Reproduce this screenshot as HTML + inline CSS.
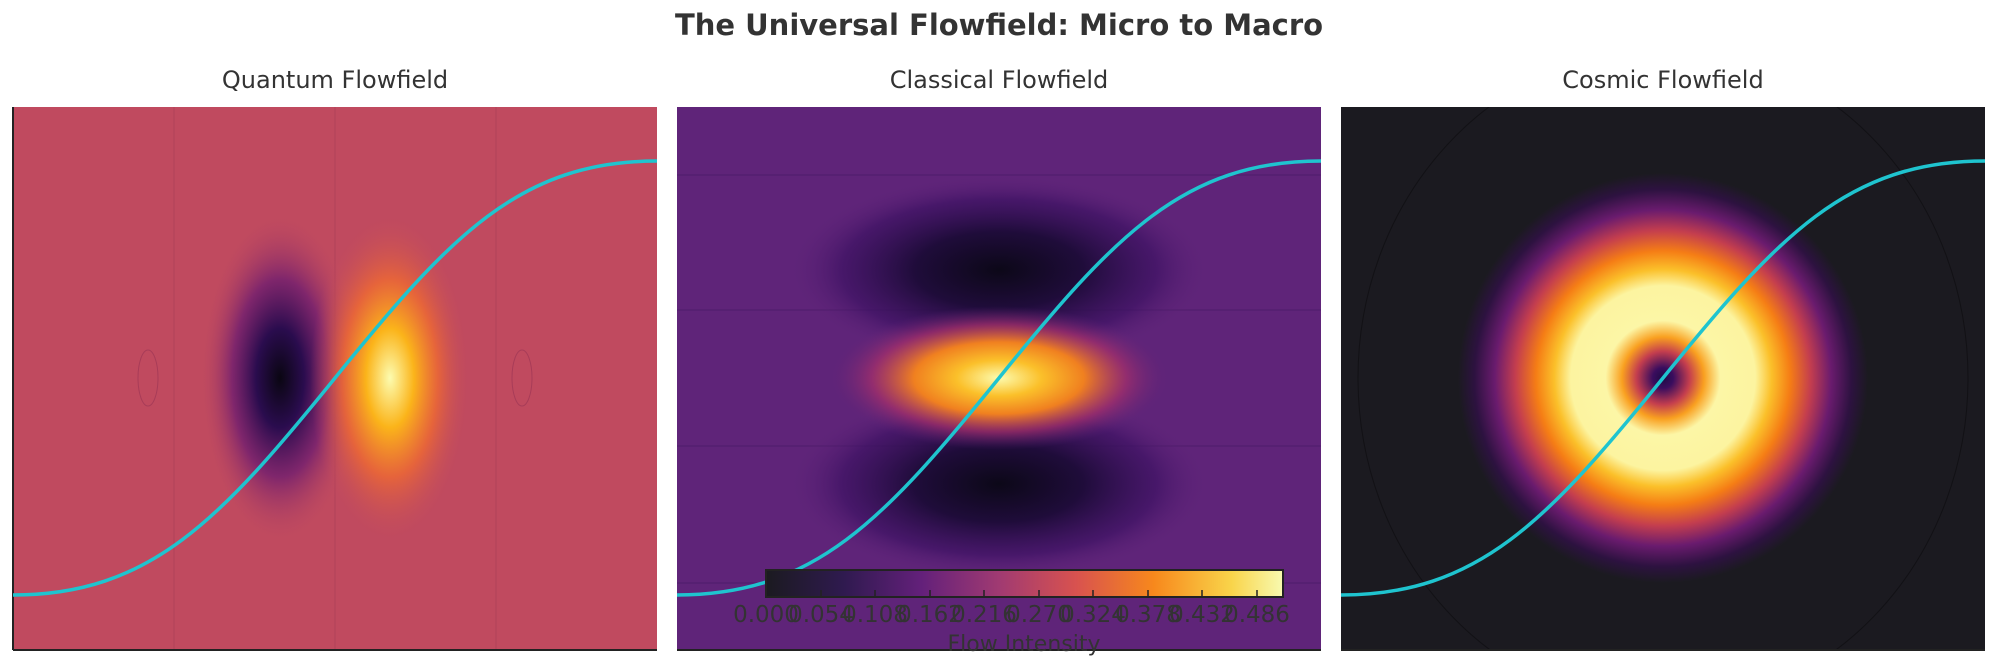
<!DOCTYPE html>
<html><head><meta charset="utf-8"><style>
body{margin:0;background:#fff;overflow:hidden;}
svg text{font-family:"DejaVu Sans","Liberation Sans",sans-serif;fill:#333;}
</style></head><body>
<svg width="1999" height="668" viewBox="0 0 1999 668" xmlns="http://www.w3.org/2000/svg" style="display:block">
<defs>
<clipPath id="c3"><rect x="1341" y="107" width="644" height="543"/></clipPath>
<radialGradient id="qd"><stop offset="0" stop-color="#0a0612"/><stop offset="0.3" stop-color="#2a0c4e"/><stop offset="0.6" stop-color="#6f1d6f" stop-opacity="0.8"/><stop offset="1" stop-color="#c04a5f" stop-opacity="0"/></radialGradient>
<radialGradient id="qb"><stop offset="0" stop-color="#fcfcb0"/><stop offset="0.3" stop-color="#fbb41a"/><stop offset="0.6" stop-color="#ef6a32" stop-opacity="0.8"/><stop offset="1" stop-color="#c04a5f" stop-opacity="0"/></radialGradient>
<radialGradient id="cd"><stop offset="0" stop-color="#0c0818"/><stop offset="0.4" stop-color="#1f0c3a"/><stop offset="0.75" stop-color="#3d1263" stop-opacity="0.7"/><stop offset="1" stop-color="#5f2479" stop-opacity="0"/></radialGradient>
<radialGradient id="cb"><stop offset="0" stop-color="#fcfcb0"/><stop offset="0.25" stop-color="#fbc02a"/><stop offset="0.5" stop-color="#f08020"/><stop offset="0.75" stop-color="#a8306a" stop-opacity="0.7"/><stop offset="1" stop-color="#5f2479" stop-opacity="0"/></radialGradient>
<radialGradient id="co"><stop offset="0" stop-color="#1e0c45"/><stop offset="0.05" stop-color="#3a0d5e"/><stop offset="0.13" stop-color="#c43e4e"/><stop offset="0.2" stop-color="#f9a020"/><stop offset="0.28" stop-color="#fcf6a6"/><stop offset="0.45" stop-color="#fcf4a0"/><stop offset="0.53" stop-color="#fbc02a"/><stop offset="0.62" stop-color="#f57d15"/><stop offset="0.72" stop-color="#c43e4e"/><stop offset="0.82" stop-color="#6a1b6e"/><stop offset="0.92" stop-color="#2d1240"/><stop offset="1" stop-color="#1b1a20"/></radialGradient>
<linearGradient id="inf"><stop offset="0" stop-color="#1b1a20"/><stop offset="0.15" stop-color="#2f1a4f"/><stop offset="0.3" stop-color="#63207a"/><stop offset="0.45" stop-color="#a03a72"/><stop offset="0.6" stop-color="#d8524f"/><stop offset="0.75" stop-color="#f7881c"/><stop offset="0.9" stop-color="#f9d44a"/><stop offset="1" stop-color="#f8fab0"/></linearGradient>
</defs>
<text x="999" y="35" text-anchor="middle" font-size="29" font-weight="bold">The Universal Flowfield: Micro to Macro</text>
<text x="335" y="88" text-anchor="middle" font-size="24">Quantum Flowfield</text>
<text x="999" y="88" text-anchor="middle" font-size="24">Classical Flowfield</text>
<text x="1663" y="88" text-anchor="middle" font-size="24">Cosmic Flowfield</text>

<rect x="13" y="107" width="644" height="543" fill="#c04a5f"/>
<g stroke="#a83c58" stroke-width="1" opacity="0.6"><line x1="174" y1="107" x2="174" y2="650"/><line x1="335" y1="107" x2="335" y2="650"/><line x1="496" y1="107" x2="496" y2="650"/></g>
<ellipse cx="280" cy="378" rx="80" ry="165" fill="url(#qd)"/>
<ellipse cx="390" cy="378" rx="80" ry="165" fill="url(#qb)"/>
<ellipse cx="148" cy="378" rx="10" ry="28" fill="none" stroke="#a83c58"/>
<ellipse cx="522" cy="378" rx="10" ry="28" fill="none" stroke="#a83c58"/>
<line x1="13" y1="107" x2="13" y2="650" stroke="#222" stroke-width="2"/>
<line x1="13" y1="650" x2="657" y2="650" stroke="#222" stroke-width="2"/>

<rect x="677" y="107" width="644" height="543" fill="#5f2479"/>
<g stroke="#4e1c6a" stroke-width="1"><line x1="677" y1="175" x2="1321" y2="175"/><line x1="677" y1="310" x2="1321" y2="310"/><line x1="677" y1="446" x2="1321" y2="446"/><line x1="677" y1="583" x2="1321" y2="583"/></g>
<ellipse cx="999" cy="270" rx="210" ry="95" fill="url(#cd)"/>
<ellipse cx="999" cy="484" rx="210" ry="95" fill="url(#cd)"/>
<ellipse cx="999" cy="378" rx="170" ry="72" fill="url(#cb)"/>
<line x1="677" y1="650" x2="1321" y2="650" stroke="#222" stroke-width="2"/>

<rect x="1341" y="107" width="644" height="543" fill="#1b1a20"/>
<g clip-path="url(#c3)">
<ellipse cx="1663" cy="378" rx="305" ry="330" fill="none" stroke="#121115"/>
<ellipse cx="1663" cy="378" rx="205" ry="205" fill="url(#co)"/>
</g>
<line x1="1341" y1="650" x2="1985" y2="650" stroke="#222" stroke-width="2"/>

<g fill="none" stroke="#1fc4cf" stroke-width="3.5">
<path d="M13,595 C150,595 220,520 335,378 C450,236 520,161 657,161"/>
<path d="M677,595 C814,595 884,520 999,378 C1114,236 1184,161 1321,161"/>
<path d="M1341,595 C1478,595 1548,520 1663,378 C1778,236 1848,161 1985,161"/>
</g>

<rect x="766" y="570" width="517" height="27" fill="url(#inf)" stroke="#222" stroke-width="2"/>
<g stroke="#222" stroke-width="1.5">
<line x1="821" y1="597" x2="821" y2="590"/><line x1="875" y1="597" x2="875" y2="590"/><line x1="930" y1="597" x2="930" y2="590"/><line x1="984" y1="597" x2="984" y2="590"/><line x1="1039" y1="597" x2="1039" y2="590"/><line x1="1093" y1="597" x2="1093" y2="590"/><line x1="1148" y1="597" x2="1148" y2="590"/><line x1="1202" y1="597" x2="1202" y2="590"/><line x1="1257" y1="597" x2="1257" y2="590"/>
</g>
<g font-size="23" text-anchor="middle">
<text x="766" y="622">0.000</text><text x="821" y="622">0.054</text><text x="875" y="622">0.108</text><text x="930" y="622">0.162</text><text x="984" y="622">0.216</text><text x="1039" y="622">0.270</text><text x="1093" y="622">0.324</text><text x="1148" y="622">0.378</text><text x="1202" y="622">0.432</text><text x="1257" y="622">0.486</text>
</g>
<text x="1024" y="651" text-anchor="middle" font-size="22">Flow Intensity</text>
</svg>
</body></html>
